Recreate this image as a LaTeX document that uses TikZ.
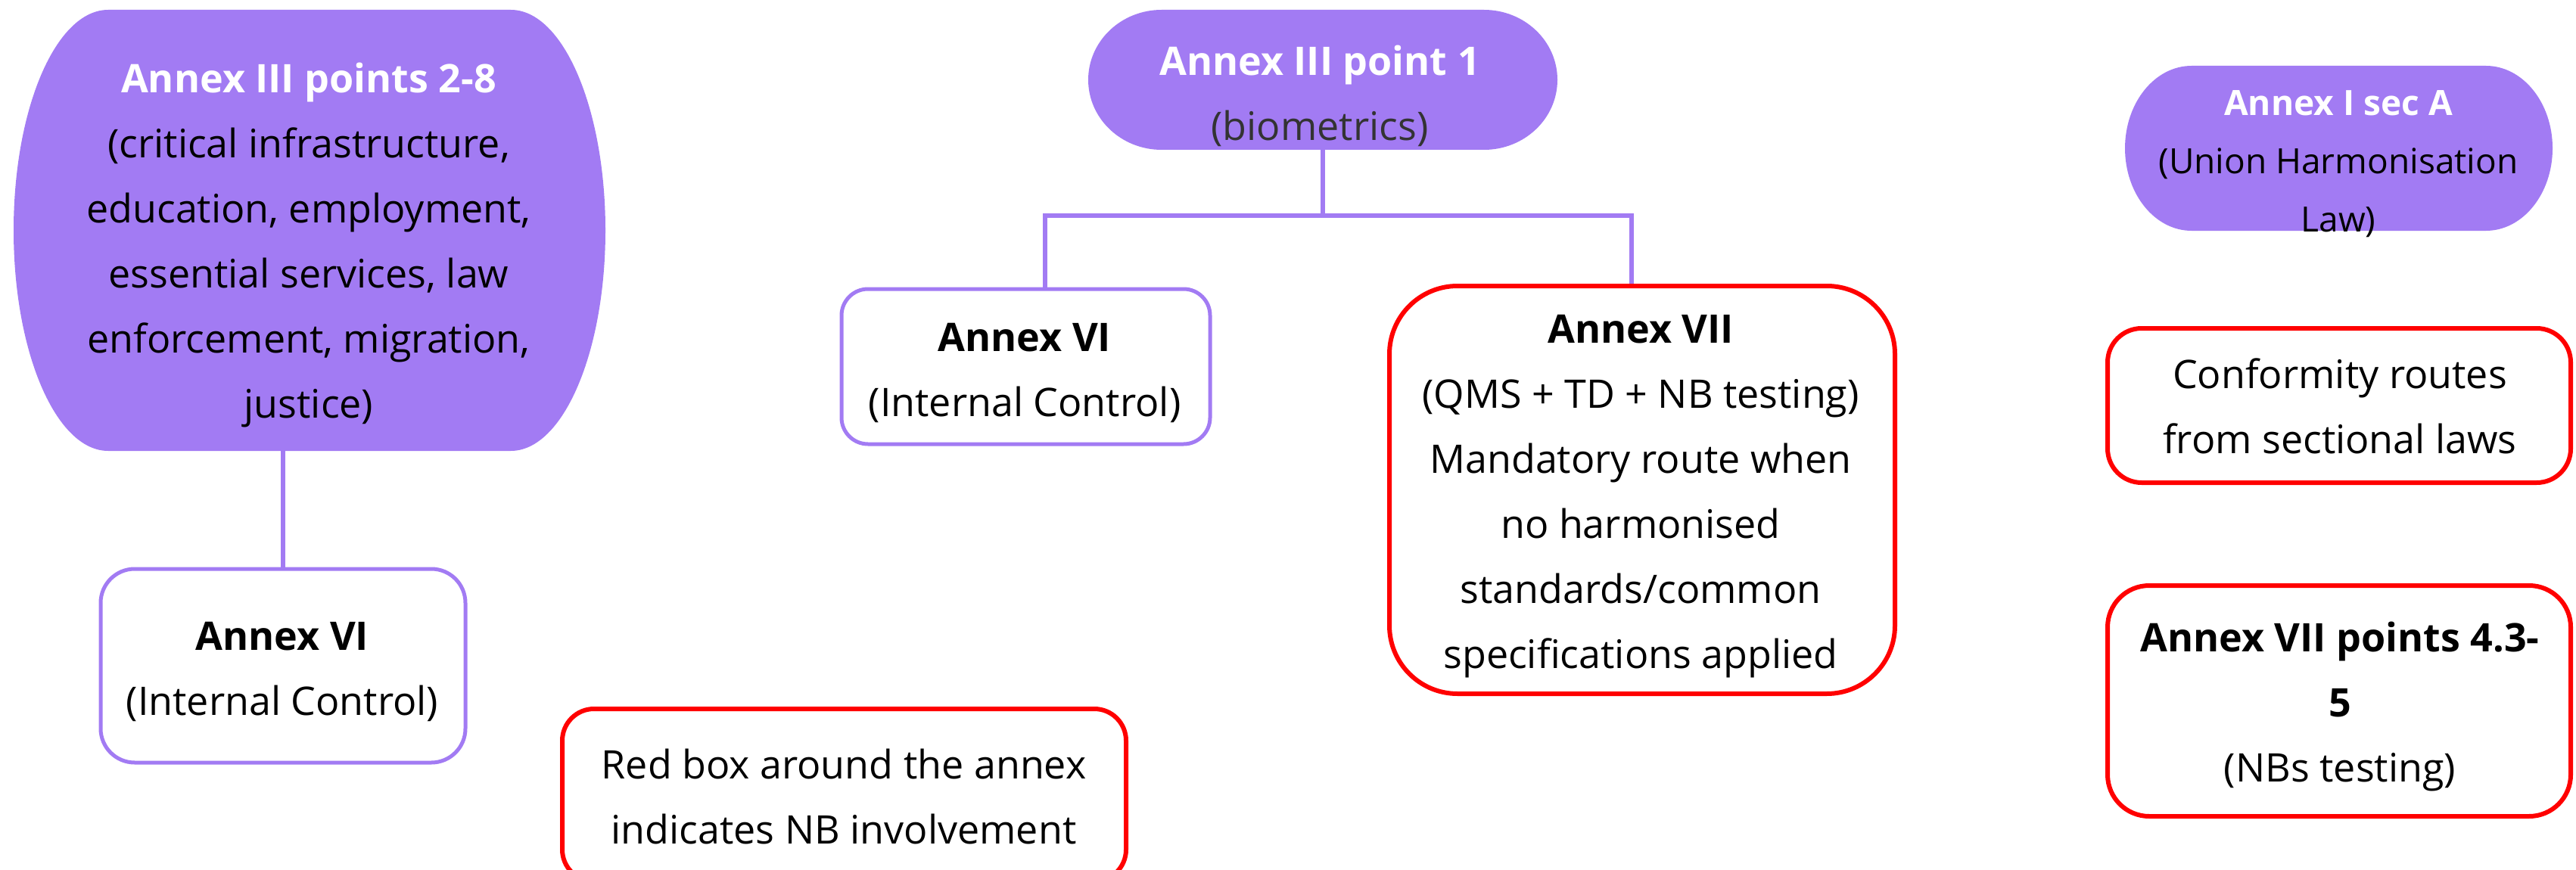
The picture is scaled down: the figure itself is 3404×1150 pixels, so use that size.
\documentclass[tikz,border=0pt]{standalone}
\usepackage{fontspec}
\setmainfont{Open Sans}
\definecolor{purp}{HTML}{A27BF3}
\definecolor{nbred}{HTML}{FF0000}
\definecolor{dgray}{HTML}{333333}
\begin{document}
\begin{tikzpicture}[x=1pt,y=-1pt,
  area/.style={inner sep=0pt, outer sep=0pt},
  box/.style={draw, fill=white, inner sep=0pt},
  pbox/.style={box, draw=purp, line width=5pt},
  rbox/.style={box, draw=nbred, line width=6pt},
  txt/.style={align=center, inner sep=0pt, font=\fontsize{52}{86}\selectfont},
  smalltxt/.style={align=center, inner sep=0pt, font=\fontsize{46}{77}\selectfont},
  conn/.style={draw=purp, line width=6.5pt}
]
\useasboundingbox (0,0) rectangle (3404,1150);
\fill[white] (0,0) rectangle (3404,1150);

% purple shapes
\node[area, minimum width=782pt, minimum height=583pt] (a28) at (409,304.5) {};
\fill[purp] ([xshift=125pt]a28.north west) -- ([xshift=-125pt]a28.north east)
  arc[start angle=90, end angle=-90, x radius=125pt, y radius=291.5pt]
  -- ([xshift=125pt]a28.south west)
  arc[start angle=270, end angle=90, x radius=125pt, y radius=291.5pt] -- cycle;

\node[area, minimum width=620pt, minimum height=185pt] (ap1) at (1748,105.5) {};
\fill[purp] ([xshift=97pt]ap1.north west) -- ([xshift=-97pt]ap1.north east)
  arc[start angle=90, end angle=-90, x radius=97pt, y radius=92.5pt]
  -- ([xshift=97pt]ap1.south west)
  arc[start angle=270, end angle=90, x radius=97pt, y radius=92.5pt] -- cycle;

\node[area, minimum width=565pt, minimum height=218pt] (ai) at (3090.5,196) {};
\fill[purp] ([xshift=88pt]ai.north west) -- ([xshift=-88pt]ai.north east)
  arc[start angle=90, end angle=-90, x radius=88pt, y radius=109pt]
  -- ([xshift=88pt]ai.south west)
  arc[start angle=270, end angle=90, x radius=88pt, y radius=109pt] -- cycle;

% boxes
\node[pbox, rounded corners=35pt, minimum width=487pt, minimum height=205pt] (m6) at (1355.5,484.5) {};
\node[pbox, rounded corners=45pt, minimum width=482pt, minimum height=256pt] (l6) at (374,880) {};
\node[rbox, rounded corners=90pt, minimum width=668pt, minimum height=539pt] (a7) at (2170,647.5) {};
\node[rbox, rounded corners=45pt, minimum width=612pt, minimum height=204pt] (cr) at (3091,536) {};
\node[rbox, rounded corners=55pt, minimum width=612pt, minimum height=305pt] (a7p) at (3091,926.5) {};
\node[rbox, rounded corners=42pt, minimum width=745pt, minimum height=228pt] (lg) at (1115.5,1051) {};

% connectors
\coordinate (bj) at (1748,285);
\coordinate (bl) at (1381,285);
\coordinate (br) at (2156,285);
\draw[conn] (ap1.south) -- (bj);
\draw[conn, line cap=rect] (bl) -- (br);
\draw[conn] (bl) -- (bl |- m6.north);
\draw[conn] (br) -- (br |- a7.north);
\draw[conn] (l6.north |- a28.south) -- (l6.north);

% texts
\node[txt] (t28) at (408,323.5) {{\bfseries\color{white}Annex III points 2-8}\\(critical infrastructure,\\education, employment,\\essential services, law\\enforcement, migration,\\justice)};
\node[txt] (tp1) at (1744,127) {{\bfseries\color{white}Annex III point 1}\\{\color{dgray}(biometrics)}};
\node[smalltxt] (tai) at (3090,217) {{\bfseries\color{white}Annex I sec A}\\(Union Harmonisation\\Law)};
\node[txt] (tm6) at (1354,493) {\textbf{Annex VI}\\(Internal Control)};
\node[txt] (tl6) at (373,888) {\textbf{Annex VI}\\(Internal Control)};
\node[txt] (ta7) at (2168,656) {\textbf{Annex VII}\\(QMS + TD + NB testing)\\Mandatory route when\\no harmonised\\standards/common\\specifications applied};
\node[txt] (tcr) at (3092,537) {Conformity routes\\from sectional laws};
\node[txt] (ta7p) at (3092,934) {\textbf{Annex VII points 4.3-}\\\textbf{5}\\(NBs testing)};
\node[txt] (tlg) at (1115,1053) {Red box around the annex\\indicates NB involvement};
\end{tikzpicture}
\end{document}
